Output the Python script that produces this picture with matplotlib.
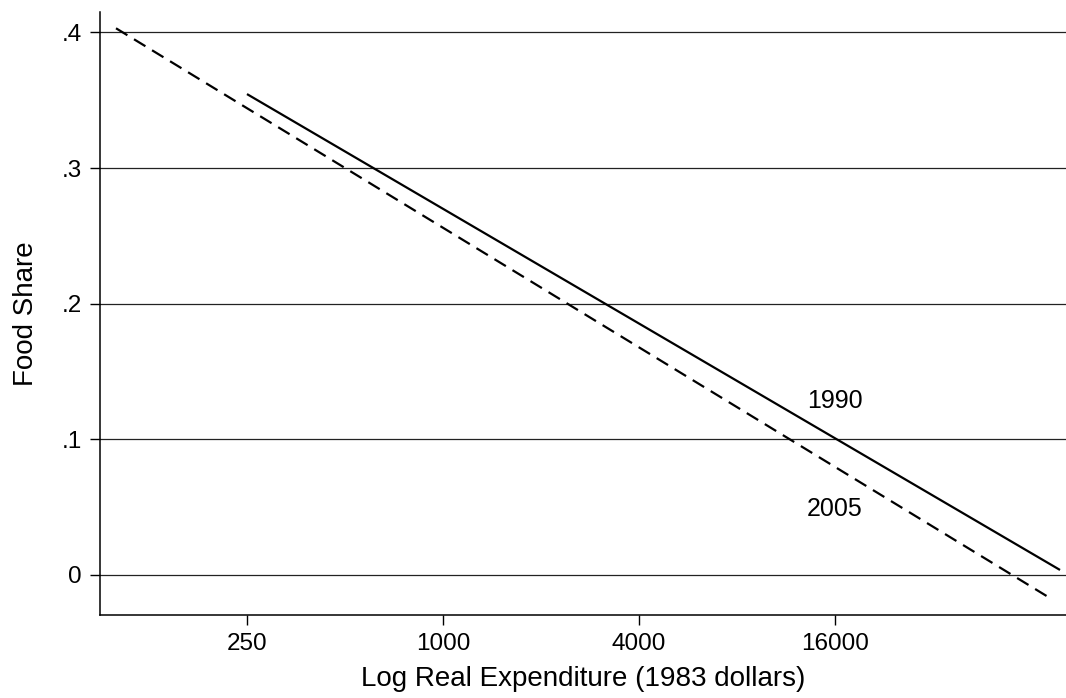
import matplotlib
matplotlib.use("Agg")
import matplotlib.pyplot as plt
from matplotlib.ticker import FixedLocator, FixedFormatter, NullLocator

plt.rcParams['font.family'] = ['Liberation Sans', 'DejaVu Sans']

# Data (expenditure in 1983 dollars, food share)
x_1990 = [250, 78600]
y_1990 = [0.3545, 0.0037]
x_2005 = [99, 73200]
y_2005 = [0.403, -0.017]

xticks = [250, 1000, 4000, 16000]
xtick_labels = ["250", "1000", "4000", "16000"]
yticks = [0, 0.1, 0.2, 0.3, 0.4]
ytick_labels = ["0", ".1", ".2", ".3", ".4"]

labels = ["1990", "2005"]
label_x = [16000, 16000]
label_y = [0.128, 0.0485]

fig = plt.figure(figsize=(10.66, 6.98), dpi=100)
ax = fig.add_axes([100/1066, (698-615)/698, 1 - 100/1066, (615-12)/698])

ax.set_xscale('log', base=2)
ax.set_xlim(88.4, 82000)
ax.set_ylim(-0.0295, 0.415)

for t in yticks:
    ax.axhline(t, color='#222222', lw=0.9, zorder=1)

ax.plot(x_1990, y_1990, color='black', lw=1.6, solid_capstyle='butt', zorder=3)
ax.plot(x_2005, y_2005, color='black', lw=1.6, dashes=(6, 3.5), zorder=3)

for lab, lx, ly in zip(labels, label_x, label_y):
    ax.text(lx, ly, lab, ha='center', va='center', fontsize=18)

ax.xaxis.set_major_locator(FixedLocator(xticks))
ax.xaxis.set_major_formatter(FixedFormatter(xtick_labels))
ax.xaxis.set_minor_locator(NullLocator())
ax.set_yticks(yticks)
ax.set_yticklabels(ytick_labels)

ax.tick_params(axis='both', direction='out', length=7, width=1.0, labelsize=17.5, colors='black', pad=6)

for s in ['top', 'right']:
    ax.spines[s].set_visible(False)
for s in ['left', 'bottom']:
    ax.spines[s].set_linewidth(1.1)
    ax.spines[s].set_color('black')

ax.set_xlabel("Log Real Expenditure (1983 dollars)", fontsize=20, labelpad=8)
ax.set_ylabel("Food Share", fontsize=20, labelpad=16)

fig.savefig("out.png", dpi=100)
